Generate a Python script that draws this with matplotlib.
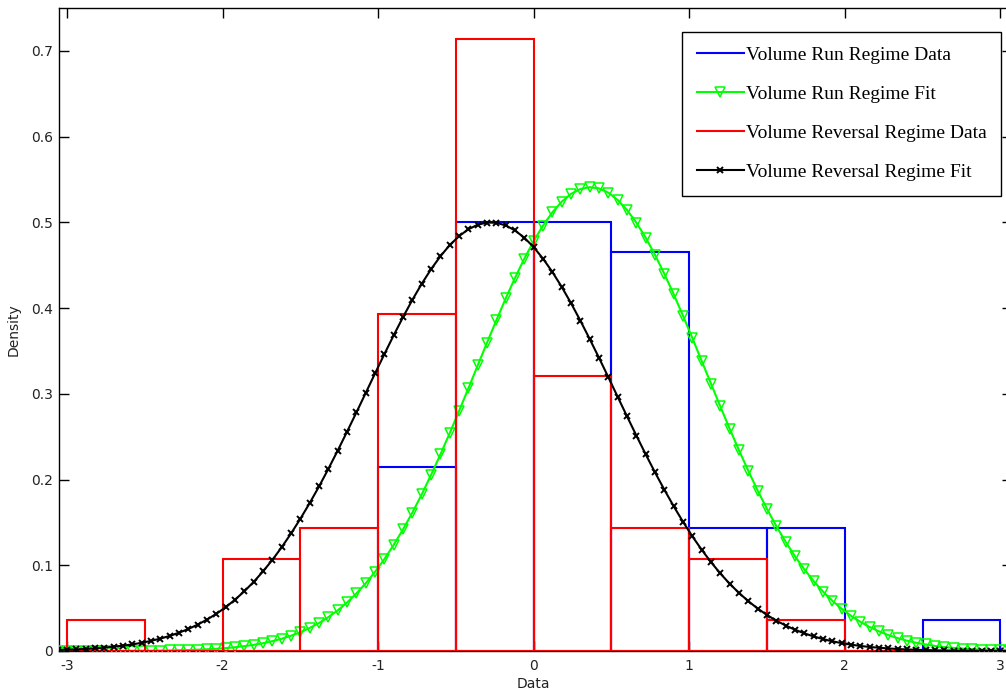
"""Histograma + ajuste normal dos dois regimes de volume (estilo MATLAB histfit)."""
import matplotlib

matplotlib.use("Agg")
import matplotlib.pyplot as plt
from matplotlib.lines import Line2D

# bins de 0.5 entre -3 e 3 (densidade)
bin_edges = [-3.0, -2.5, -2.0, -1.5, -1.0, -0.5, 0.0, 0.5, 1.0, 1.5, 2.0, 2.5, 3.0]
run_density = [0.0, 0.0, 0.0, 0.0, 0.215, 0.5, 0.5, 0.465, 0.143, 0.143, 0.0, 0.036]
rev_density = [0.036, 0.0, 0.107, 0.143, 0.393, 0.714, 0.321, 0.143, 0.107, 0.036, 0.0, 0.0]

# curvas de ajuste
fit_x = [
    -3.06, -3.00, -2.94, -2.88, -2.82, -2.76, -2.70, -2.64, -2.58, -2.52, -2.46, -2.40, -2.34,
    -2.28, -2.22, -2.16, -2.10, -2.04, -1.98, -1.92, -1.86, -1.80, -1.74, -1.68, -1.62, -1.56,
    -1.50, -1.44, -1.38, -1.32, -1.26, -1.20, -1.14, -1.08, -1.02, -0.96, -0.90, -0.84, -0.78,
    -0.72, -0.66, -0.60, -0.54, -0.48, -0.42, -0.36, -0.30, -0.24, -0.18, -0.12, -0.06, 0.00,
    0.06, 0.12, 0.18, 0.24, 0.30, 0.36, 0.42, 0.48, 0.54, 0.60, 0.66, 0.72, 0.78, 0.84, 0.90,
    0.96, 1.02, 1.08, 1.14, 1.20, 1.26, 1.32, 1.38, 1.44, 1.50, 1.56, 1.62, 1.68, 1.74, 1.80,
    1.86, 1.92, 1.98, 2.04, 2.10, 2.16, 2.22, 2.28, 2.34, 2.40, 2.46, 2.52, 2.58, 2.64, 2.70,
    2.76, 2.82, 2.88, 2.94, 3.00, 3.06,
]
run_fit = [
    0.0000, 0.0000, 0.0000, 0.0000, 0.0000, 0.0001, 0.0001, 0.0001, 0.0002, 0.0003, 0.0003,
    0.0005, 0.0006, 0.0009, 0.0011, 0.0015, 0.0020, 0.0026, 0.0034, 0.0044, 0.0057, 0.0072,
    0.0091, 0.0115, 0.0143, 0.0178, 0.0219, 0.0269, 0.0327, 0.0395, 0.0474, 0.0566, 0.0671,
    0.0789, 0.0924, 0.1072, 0.1238, 0.1419, 0.1615, 0.1826, 0.2053, 0.2292, 0.2541, 0.2799,
    0.3063, 0.3331, 0.3597, 0.3858, 0.4112, 0.4353, 0.4577, 0.4782, 0.4963, 0.5117, 0.5241,
    0.5332, 0.5388, 0.5410, 0.5396, 0.5346, 0.5261, 0.5144, 0.4996, 0.4821, 0.4620, 0.4399,
    0.4161, 0.3910, 0.3650, 0.3383, 0.3117, 0.2852, 0.2592, 0.2341, 0.2100, 0.1871, 0.1656,
    0.1456, 0.1272, 0.1104, 0.0952, 0.0815, 0.0693, 0.0586, 0.0492, 0.0410, 0.0340, 0.0280,
    0.0229, 0.0186, 0.0150, 0.0120, 0.0096, 0.0076, 0.0059, 0.0046, 0.0036, 0.0028, 0.0021,
    0.0016, 0.0012, 0.0009, 0.0007,
]
rev_fit = [
    0.0011, 0.0015, 0.0019, 0.0024, 0.0031, 0.0039, 0.0050, 0.0062, 0.0077, 0.0096, 0.0118,
    0.0145, 0.0176, 0.0214, 0.0257, 0.0308, 0.0367, 0.0434, 0.0511, 0.0599, 0.0697, 0.0807,
    0.0929, 0.1063, 0.1211, 0.1371, 0.1543, 0.1726, 0.1920, 0.2125, 0.2338, 0.2558, 0.2782,
    0.3010, 0.3238, 0.3463, 0.3683, 0.3895, 0.4096, 0.4283, 0.4453, 0.4604, 0.4734, 0.4839,
    0.4919, 0.4972, 0.4998, 0.4995, 0.4964, 0.4905, 0.4820, 0.4710, 0.4576, 0.4421, 0.4247,
    0.4057, 0.3853, 0.3639, 0.3419, 0.3193, 0.2964, 0.2737, 0.2513, 0.2294, 0.2083, 0.1881,
    0.1688, 0.1507, 0.1337, 0.1181, 0.1036, 0.0904, 0.0784, 0.0677, 0.0581, 0.0495, 0.0420,
    0.0354, 0.0297, 0.0248, 0.0206, 0.0170, 0.0139, 0.0113, 0.0092, 0.0074, 0.0059, 0.0047,
    0.0038, 0.0030, 0.0023, 0.0018, 0.0014, 0.0011, 0.0008, 0.0006, 0.0005, 0.0004, 0.0003,
    0.0002, 0.0001, 0.0001, 0.0001,
]

labels = [
    "Volume Run Regime Data",
    "Volume Run Regime Fit",
    "Volume Reversal Regime Data",
    "Volume Reversal Regime Fit",
]
x_ticks = [-3, -2, -1, 0, 1, 2, 3]
y_ticks = [0, 0.1, 0.2, 0.3, 0.4, 0.5, 0.6, 0.7]

plt.rcParams["axes.unicode_minus"] = False
plt.rcParams["font.family"] = "DejaVu Sans"

W, H = 1006, 691
fig = plt.figure(figsize=(W / 100, H / 100), dpi=100)
# eixo direito fica fora da imagem (como no original recortado)
ax_l, ax_r, ax_t, ax_b = 59.3, 1012.0, 8.0, 651.0
ax = fig.add_axes([ax_l / W, 1 - ax_b / H, (ax_r - ax_l) / W, (ax_b - ax_t) / H])

widths = [bin_edges[i + 1] - bin_edges[i] for i in range(len(bin_edges) - 1)]
lw = 1.5

ax.bar(bin_edges[:-1], run_density, width=widths, align="edge", fill=False,
       edgecolor="#0000ff", linewidth=lw, zorder=2)
ax.plot(fit_x, run_fit, color="#00ff00", linewidth=lw, marker="v", markersize=7,
        markerfacecolor="none", markeredgewidth=1.1, zorder=3)
ax.bar(bin_edges[:-1], rev_density, width=widths, align="edge", fill=False,
       edgecolor="#ff0000", linewidth=lw, zorder=4)
ax.plot(fit_x, rev_fit, color="black", linewidth=lw, marker="x", markersize=4,
        markeredgewidth=1.4, zorder=5)

ax.set_xlim(-3.05, 3.075)
ax.set_ylim(0, 0.75)
ax.set_xticks(x_ticks)
ax.set_xticklabels([str(v) for v in x_ticks])
ax.set_yticks(y_ticks)
ax.set_yticklabels(["0" if v == 0 else f"{v:g}" for v in y_ticks])
ax.tick_params(direction="in", length=7.5, width=1, top=True, right=True,
               labelsize=10, colors="black", labelcolor="#222222")
ax.tick_params(axis="x", pad=6.0)
ax.tick_params(axis="y", pad=4.5)
for sp in ax.spines.values():
    sp.set_linewidth(1.0)

ax.set_xlabel("Data", fontsize=10, color="#222222")
ax.set_ylabel("Density", fontsize=10, color="#222222")
ax.xaxis.set_label_coords((533 - ax_l) / (ax_r - ax_l), (ax_b - 677) / (ax_b - ax_t))
ax.yaxis.set_label_coords((21 - ax_l) / (ax_r - ax_l), 0.5)

handles = [
    Line2D([], [], color="#0000ff", linewidth=lw),
    Line2D([], [], color="#00ff00", linewidth=lw, marker="v", markersize=7,
           markerfacecolor="none", markeredgewidth=1.1),
    Line2D([], [], color="#ff0000", linewidth=lw),
    Line2D([], [], color="black", linewidth=lw, marker="x", markersize=4, markeredgewidth=1.4),
]
leg = ax.legend(handles, labels, loc="upper right",
                bbox_to_anchor=(1001 / W, 1 - 32 / H), bbox_transform=fig.transFigure,
                borderaxespad=0, prop={"family": "Liberation Serif", "size": 14},
                frameon=True, fancybox=False, edgecolor="black", framealpha=1,
                handlelength=2.4, handletextpad=0.1, labelspacing=1.1,
                borderpad=0.75, numpoints=1)
leg.get_frame().set_linewidth(1.0)

fig.savefig("out.png", dpi=100)
